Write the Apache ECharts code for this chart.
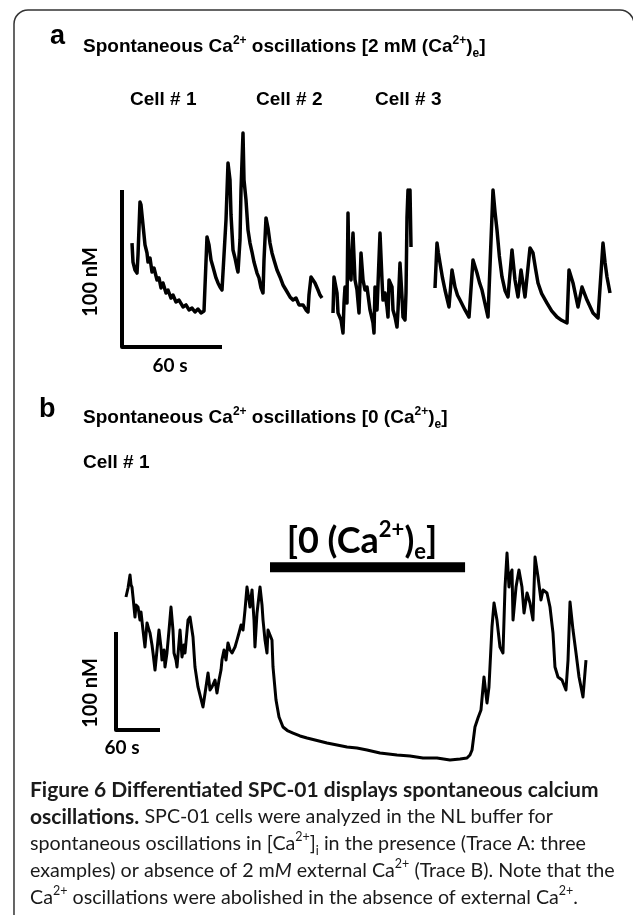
<!DOCTYPE html>
<html><head><meta charset="utf-8">
<script src="https://cdn.jsdelivr.net/npm/echarts@6/dist/echarts.min.js"></script>
<style>html,body{margin:0;padding:0;background:#fff}#c{width:633px;height:915px}</style>
</head><body><div id="c"></div>
<script>
// ---- Panel a, Cell #1 (time s, [Ca2+] nM relative) ----
const cell1T = [6.0,6.6,7.8,9.0,9.6,10.8,11.4,12.6,13.8,15.0,15.6,16.8,18.0,19.2,21.0,22.2,23.4,24.6,26.4,27.6,29.4,30.6,32.4,34.2,36.6,38.4,40.2,42.0,43.8,45.6,47.4,49.2,50.4,51.0,52.2,53.4,54.6,56.4,57.6,58.8,60.0,61.2,62.4,63.6,64.8,65.4,66.6,67.8,69.0,69.6,70.8,71.4,72.6,73.2,74.4,75.6,76.8,78.0,79.2,81.0,82.2,83.4,84.6,85.2,86.4,87.6,88.8,90.0,91.2,93.0,94.8,96.6,98.4,100.8,102.6,104.4,106.2,108.6,110.4,111.6,112.2,113.4,114.6,115.8,117.6,118.8,120.0];
const cell1Ca = [66.2,54.1,49.0,47.1,58.6,92.4,90.5,77.7,65.0,59.9,54.1,56.7,47.8,50.3,42.7,44.0,37.6,40.8,34.4,36.3,31.2,33.1,28.7,29.9,25.5,26.8,23.6,24.8,22.3,24.2,21.7,22.9,22.3,70.1,65.0,55.4,51.0,44.0,40.8,38.2,36.3,36.3,80.9,117.2,106.4,84.1,61.8,56.7,50.3,47.8,68.2,100.0,136.3,106.4,93.6,74.5,66.2,60.5,54.1,47.1,44.0,37.6,34.4,55.4,82.2,75.8,66.2,59.9,55.4,49.0,44.6,39.5,36.3,31.9,29.9,31.2,26.8,26.8,23.6,22.3,33.1,44.6,42.7,40.8,36.3,33.1,31.2];
// ---- Panel a, Cell #2 ----
const cell2T = [0,0.6,2.4,3.0,4.8,6.0,6.6,7.2,8.4,9.0,9.6,10.8,11.4,12.0,13.2,14.4,15.6,16.8,18.0,19.2,20.4,22.2,24.0,24.6,25.2,26.4,28.2,29.4,30.0,31.2,32.4,33.0,33.6,35.4,36.0,37.2,38.4,39.0,40.2,41.4,42.0,43.2,43.8,44.4,45.0,45.6,46.2,46.8];
const cell2Ca = [21.7,44.6,34.4,21.7,17.2,8.9,28.0,38.2,28.0,85.4,49.0,42.7,59.9,72.6,42.7,36.3,21.7,59.9,42.7,36.3,38.2,23.6,15.3,8.9,38.2,23.6,72.6,42.7,29.9,34.4,25.5,19.1,42.7,38.2,23.6,19.1,12.7,23.6,53.5,31.9,19.1,17.2,34.4,82.8,100.0,90.5,100.0,63.7];
// ---- Panel a, Cell #3 ----
const cell3T = [0,1.2,2.0,3.0,4.5,6.0,8.4,10.2,12.0,13.5,15.0,18.0,20.4,22.8,25.2,26.7,28.2,31.8,34.8,36.0,37.2,38.6,40.2,42.0,43.8,46.2,48.0,49.8,51.6,54.0,57.0,58.8,60.3,61.8,64.0,67.2,70.0,73.2,76.0,79.2,80.4,82.8,85.8,88.2,91.2,94.8,97.8,100.8,102.0,103.2,105.0];
const cell3Ca = [37.6,66.2,60,53.5,44,36.3,25.5,49.0,38.2,33,29.9,23.6,19.1,55.4,47.1,41,36.3,19.1,100,86,74.5,58,44.6,36,31.9,61.8,42.7,31.9,49.0,31.9,63.1,59.9,50,40.8,34,28,23,19.1,17,15.3,49,40.8,25.5,38.2,29.9,21.7,18.5,66.2,54,44.6,34.4];
// ---- Panel b, Cell #1 ----
const bT = [13.6,16.4,19.1,20.5,21.8,23.2,25.9,27.3,30.0,32.7,34.1,36.8,39.5,42.3,45.0,46.4,49.1,50.5,53.2,55.9,58.6,61.4,62.7,65.5,66.8,69.5,72.3,75.0,77.7,79.1,81.8,83.2,87.3,90.0,92.7,94.1,98.2,100.9,105.0,107.7,111.8,118.6,122.7,125.5,128.2,130.9,135.0,137.7,140.5,143.2,144.5,147.3,150.0,152.7,155.5,158.2,162.3,165.0,167.7,170.5,173.2,175.9,178.6,181.4,182.7,185.5,188.2,189.5,192.3,196.4,199.1,200.5,203.2,205.9,207.3,210.0,212.7,214.1,218.2,222.3,227.7,234.5,241.4,250.9,260.5,271.4,287.7,301.4,315.0,328.6,342.3,360.0,383.2,400.9,418.6,437.7,455.4,469.1,478.6,482.7,485.5,489.5,493.6,497.7,501.8,505.9,508.6,512.7,515.5,519.5,523.6,527.7,530.5,533.2,535.9,537.3,540.0,541.4,545.5,549.5,553.6,556.4,560.5,564.5,568.6,571.4,575.5,579.5,582.3,587.7,591.8,595.9,598.6,602.7,608.2,613.6,616.4,619.1,623.2,627.3,631.4,636.8,640.9];
const bCa = [185.7,194.9,208.2,198.0,195.9,185.7,165.3,177.6,175.5,162.2,170.4,152.0,134.7,159.2,152.0,149.0,136.7,128.6,111.2,131.6,152.0,133.7,121.4,131.6,114.3,128.6,152.0,175.5,152.0,128.6,121.4,114.3,152.0,124.5,136.7,128.6,162.2,165.3,144.9,114.3,93.9,73.5,93.9,108.2,90.8,93.9,101.0,87.8,101.0,111.2,121.4,131.6,121.4,138.8,131.6,128.6,134.7,141.8,149.0,157.1,152.0,172.4,195.9,182.7,175.5,192.9,162.2,134.7,169.4,195.9,177.6,162.2,141.8,128.6,152.0,146.9,141.8,114.3,80.6,63.3,53.1,49.0,46.9,43.9,41.8,39.8,36.7,34.7,32.7,31.6,29.6,26.5,24.5,23.5,21.4,21.4,19.4,20.4,21.4,24.5,29.6,53.1,62.2,70.4,104.1,77.6,93.9,155.1,179.6,162.2,134.7,128.6,195.9,230.6,195.9,208.2,213.3,162.2,195.9,213.3,195.9,169.4,189.8,179.6,162.2,226.5,206.1,182.7,192.9,189.8,175.5,149.0,114.3,104.1,101.0,90.8,121.4,180.6,152.0,128.6,104.1,83.7,121.4];
// zero-Ca2+ application period (s) and bar level
const zeroCaT = [210, 476];
const zeroCaLevel = [216, 216];
// scale bars: 60 s, 100 nM
const scaleAT = [0, 0, 60];
const scaleACa = [100, 0, 0];
const scaleBT = [0, 0, 60];
const scaleBCa = [150, 50, 50];

const zip = (a, b) => a.slice(0, Math.min(a.length, b.length)).map((v, i) => [v, b[i]]);

const chart = echarts.init(document.getElementById('c'), null, {renderer: 'canvas'});

function xA(idx, max) { return {type: 'value', gridIndex: idx, min: 0, max: max, show: false}; }
function yA(idx, max) { return {type: 'value', gridIndex: idx, min: 0, max: max, show: false}; }
function trace(idx, data, w) {
  return {type: 'line', xAxisIndex: idx, yAxisIndex: idx, data: data, showSymbol: false, symbol: 'none',
    clip: false, lineStyle: {color: '#000', width: w, join: 'round', cap: 'butt'}, silent: true, animation: false};
}

const T = 'Liberation Sans';
const supRich = (fs) => ({
  sup: {fontSize: fs, fontWeight: 'bold', fontFamily: T, lineHeight: fs, verticalAlign: 'top', fill: '#000'},
  sub: {fontSize: fs, fontWeight: 'bold', fontFamily: T, lineHeight: fs, verticalAlign: 'bottom', fill: '#000'}
});
const capF = 'Lato';
const capFS = 19.7;
const capBS = 21;
const capC = '#1a1a1a';
const capRich = {
  b: {fontWeight: 'bold', fontFamily: capF, fontSize: capBS, lineHeight: 27, fill: capC},
  i: {fontStyle: 'italic', fontFamily: capF, fontSize: capFS, lineHeight: 27, fill: capC},
  sup: {fontFamily: capF, fontSize: 12.5, lineHeight: 12.5, verticalAlign: 'top', fill: capC},
  sub: {fontFamily: capF, fontSize: 12.5, lineHeight: 12.5, verticalAlign: 'bottom', fill: capC}
};
function cap(y, text) {
  return {type: 'text', x: 30, y: y, silent: true, style: {text: text, fontFamily: capF, fontSize: capFS, lineHeight: 27,
    fill: capC, verticalAlign: 'middle', rich: capRich}};
}
function lab(x, y, text, fs, opts) {
  return Object.assign({type: 'text', x: x, y: y, silent: true, style: Object.assign({text: text, fontFamily: T, fontWeight: 'bold',
    fontSize: fs, fill: '#000', verticalAlign: 'middle', lineHeight: Math.round(fs * 1.3), rich: supRich(Math.round(fs * 0.63))}, opts || {})});
}
function scaleLab(x, y, text, rot) {
  return {type: 'text', x: x, y: y, rotation: rot ? Math.PI / 2 : 0, silent: true,
    style: {text: text, fontFamily: 'Lato', fontWeight: 'bold', fontSize: rot ? 20 : 19, fill: '#000', align: 'center', verticalAlign: 'middle'}};
}

const option = {
  backgroundColor: '#fff',
  animation: false,
  grid: [
    {left: 122, top: 111.5, width: 200, height: 235.5},
    {left: 333, top: 111.5, width: 100, height: 235.5},
    {left: 435, top: 111.5, width: 180, height: 235.5},
    {left: 116, top: 534, width: 484, height: 245}
  ],
  xAxis: [xA(0, 120), xA(1, 60), xA(2, 108), xA(3, 660)],
  yAxis: [yA(0, 150), yA(1, 150), yA(2, 150), yA(3, 250)],
  series: [
    trace(0, zip(cell1T, cell1Ca), 3.5),
    trace(1, zip(cell2T, cell2Ca), 3.5),
    trace(2, zip(cell3T, cell3Ca), 3.5),
    trace(0, zip(scaleAT, scaleACa), 4),
    trace(3, zip(bT, bCa), 3),
    trace(3, zip(scaleBT, scaleBCa), 4),
    trace(3, zip(zeroCaT, zeroCaLevel), 10)
  ],
  graphic: [
    {type: 'rect', silent: true, z: -1, shape: {x: 14, y: 10, width: 620, height: 920, r: 14},
      style: {fill: 'none', stroke: '#333', lineWidth: 1.5}},
    lab(50, 37, 'a', 27),
    lab(83, 47, 'Spontaneous Ca{sup|2+} oscillations [2 mM (Ca{sup|2+}){sub|e}]', 19),
    lab(130, 100, 'Cell # 1', 19),
    lab(256, 100, 'Cell # 2', 19),
    lab(375, 100, 'Cell # 3', 19),
    scaleLab(91, 282, '100 nM', true),
    scaleLab(170, 366, '60 s', false),
    lab(39, 410, 'b', 27),
    lab(83, 418, 'Spontaneous Ca{sup|2+} oscillations [0 (Ca{sup|2+}){sub|e}]', 19),
    lab(83, 463, 'Cell # 1', 19),
    {type: 'text', x: 362, y: 541, silent: true,
      style: {text: '[0 (Ca{sup|2+}){sub|e}]', fontFamily: 'Lato', fontWeight: 'bold', fontSize: 36, lineHeight: 44, fill: '#000',
        align: 'center', verticalAlign: 'middle',
        rich: {sup: {fontFamily: 'Lato', fontWeight: 'bold', fontSize: 22, lineHeight: 22, verticalAlign: 'top', fill: '#000'},
               sub: {fontFamily: 'Lato', fontWeight: 'bold', fontSize: 22, lineHeight: 22, verticalAlign: 'bottom', fill: '#000'}}}},
    scaleLab(91, 693, '100 nM', true),
    scaleLab(122, 748, '60 s', false),
    cap(790, '{b|Figure 6 Differentiated SPC-01 displays spontaneous calcium}'),
    cap(817, '{b|oscillations.} SPC-01 cells were analyzed in the NL buffer for'),
    cap(844, 'spontaneous oscillations in [Ca{sup|2+}]{sub|i} in the presence (Trace A: three'),
    cap(871, 'examples) or absence of 2 m{i|M} external Ca{sup|2+} (Trace B). Note that the'),
    cap(898, 'Ca{sup|2+} oscillations were abolished in the absence of external Ca{sup|2+}.')
  ]
};
chart.setOption(option);
</script>
</body></html>
